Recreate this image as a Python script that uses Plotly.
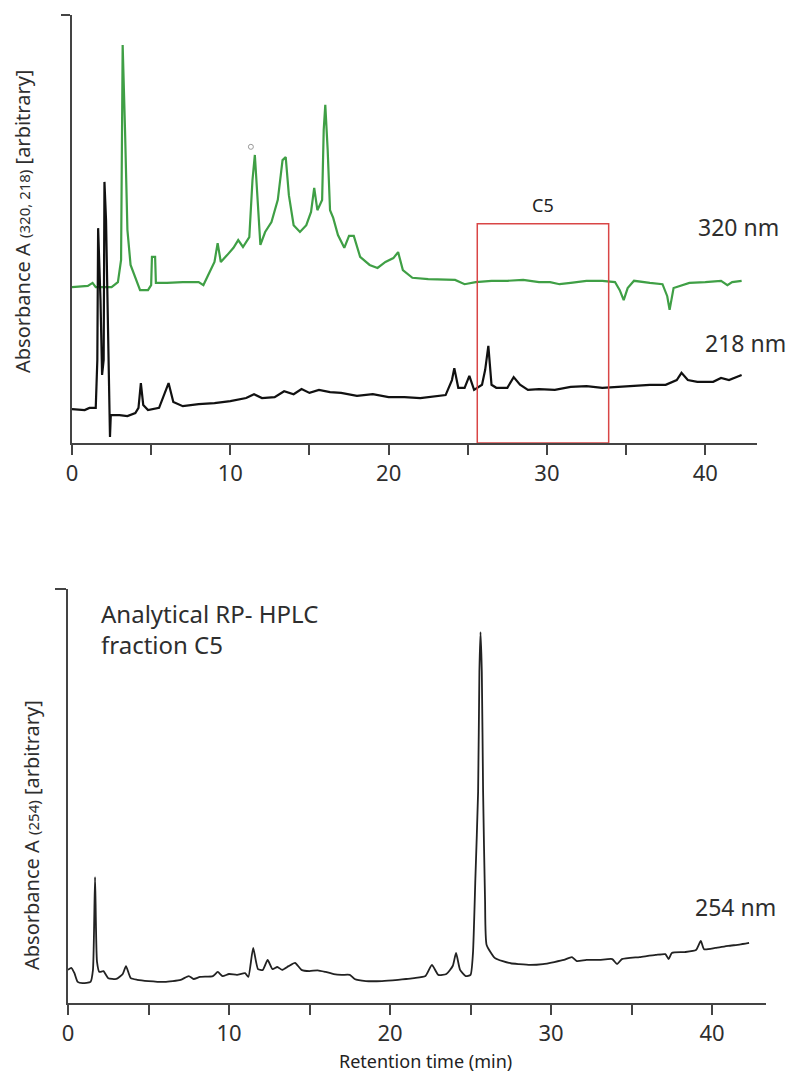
import plotly.graph_objects as go

# ---------------- data ----------------
# Top panel: preparative run, 320 nm (green) and 218 nm (black), arbitrary units 0-100
t320 = [0.0, 1.0, 1.3, 1.5, 2.5, 2.9, 3.1, 3.2, 3.35, 3.5, 3.7, 4.0, 4.3, 4.8, 5.0, 5.05, 5.25, 5.3,
        6.0, 7.0, 8.0, 8.3, 8.6, 9.0, 9.2, 9.4, 9.8, 10.2, 10.5, 10.8, 11.2, 11.4, 11.55, 11.7, 11.9,
        12.2, 12.6, 13.0, 13.3, 13.5, 13.7, 14.0, 14.4, 14.8, 15.1, 15.3, 15.5, 15.8, 15.9, 16.0, 16.15,
        16.3, 16.5, 16.8, 17.2, 17.5, 17.8, 18.2, 18.8, 19.3, 19.8, 20.3, 20.6, 20.9, 21.5, 22.5, 23.5,
        24.2, 24.8, 25.5, 26.5, 27.5, 28.5, 29.5, 30.2, 30.8, 31.5, 32.5, 33.5, 34.3, 34.6, 34.85, 35.1,
        35.5, 36.5, 37.3, 37.6, 37.75, 38.0, 39.0, 40.0, 41.0, 41.4, 41.7, 42.3]
a320 = [36.4, 36.7, 37.4, 36.4, 36.4, 37.6, 42.8, 93.0, 73.1, 49.8, 41.6, 38.6, 35.7, 35.7, 36.9, 43.5, 43.5, 37.4,
        37.4, 37.6, 37.6, 36.9, 39.3, 42.3, 46.7, 42.3, 43.9, 45.6, 47.4, 45.8, 48.1, 61.4, 67.3, 59.1, 46.3,
        49.3, 51.6, 56.8, 66.1, 66.8, 57.9, 50.9, 49.3, 50.9, 54.0, 59.6, 54.4, 56.8, 73.1, 79.0, 68.5,
        54.4, 52.6, 48.6, 45.6, 48.4, 48.4, 43.5, 41.6, 40.9, 42.3, 43.2, 44.6, 40.4, 38.6, 38.3, 38.1,
        38.1, 37.1, 37.6, 37.9, 37.9, 38.1, 37.6, 37.6, 37.1, 37.4, 37.9, 37.9, 37.6, 35.7, 33.4, 36.2,
        37.9, 37.4, 37.1, 34.3, 31.1, 36.2, 37.4, 37.6, 37.9, 36.9, 37.6, 37.9]

t218 = [0.0, 0.8, 1.1, 1.5, 1.6, 1.65, 1.8, 1.9, 2.0, 2.05, 2.15, 2.2, 2.3, 2.35, 2.4, 2.45, 3.0, 3.5,
        4.0, 4.2, 4.35, 4.5, 4.8, 5.5, 5.9, 6.1, 6.4, 7.0, 8.0, 9.0, 10.0, 11.0, 11.5, 12.0, 12.8, 13.4,
        14.0, 14.5, 15.0, 15.6, 16.3, 17.0, 18.0, 19.0, 20.0, 21.0, 22.0, 23.0, 23.6, 24.0, 24.15, 24.4,
        24.8, 25.1, 25.4, 25.9, 26.1, 26.3, 26.5, 26.8, 27.5, 27.9, 28.3, 28.8, 29.5, 30.5, 31.5, 32.5,
        33.5, 34.5, 35.5, 36.5, 37.5, 38.2, 38.5, 38.9, 39.5, 40.5, 41.0, 41.5, 42.3]
a218 = [7.9, 7.7, 8.2, 8.2, 19.4, 50.2, 33.4, 15.9, 19.4, 61.0, 52.1, 42.8, 17.1, 11.2, 1.4, 6.5, 6.5, 6.3,
        7.0, 8.2, 14.0, 8.9, 7.7, 8.2, 12.4, 14.0, 9.6, 8.6, 9.1, 9.3, 9.8, 10.5, 11.4, 10.5, 10.7, 12.1,
        11.4, 12.6, 11.7, 12.4, 11.9, 11.7, 11.0, 11.4, 10.7, 10.7, 10.5, 11.0, 11.2, 14.7, 17.5, 12.9,
        12.9, 15.7, 12.4, 13.6, 17.1, 22.7, 13.6, 12.9, 12.9, 15.4, 13.6, 12.4, 12.6, 12.4, 13.1, 13.3,
        12.9, 13.1, 13.3, 13.6, 13.6, 14.7, 16.4, 14.7, 14.3, 14.3, 15.2, 14.7, 15.9]

# Fraction C5 window (min) and box height (arbitrary units)
c5_start, c5_end, c5_top = 25.6, 33.9, 51.2

# Bottom panel: analytical RP-HPLC of fraction C5, 254 nm
t254 = [0.0, 0.2, 0.4, 0.6, 0.9, 1.4, 1.55, 1.68, 1.8, 1.95, 2.2, 2.5, 3.0, 3.4, 3.6, 3.9, 4.3, 5.0,
        6.0, 7.0, 7.5, 7.8, 8.2, 9.0, 9.3, 9.6, 10.0, 10.5, 11.0, 11.2, 11.5, 11.8, 12.1, 12.4, 12.7,
        13.0, 13.3, 13.7, 14.1, 14.5, 15.0, 15.5, 16.0, 16.5, 17.0, 17.5, 17.8, 18.5, 19.5, 20.5, 21.0,
        21.5, 22.2, 22.6, 23.0, 23.5, 23.9, 24.1, 24.35, 24.7, 25.0, 25.15, 25.3, 25.47, 25.55, 25.62,
        25.7, 25.78, 25.9, 26.0, 26.5, 27.0, 27.5, 28.0, 28.7, 29.5, 30.2, 30.8, 31.3, 31.6, 32.2, 33.0,
        33.8, 34.1, 34.4, 35.5, 36.5, 37.1, 37.3, 37.5, 38.3, 39.0, 39.3, 39.5, 40.2, 41.0, 41.7, 42.3]
a254 = [8.0, 8.5, 7.2, 5.1, 4.8, 5.1, 8.0, 30.4, 10.0, 7.5, 7.7, 6.0, 5.8, 7.0, 8.9, 6.0, 5.6, 5.3,
        5.1, 5.6, 6.5, 5.8, 6.3, 6.5, 7.5, 6.5, 7.0, 6.8, 7.2, 6.3, 13.3, 8.2, 8.0, 10.4, 8.2,
        8.7, 8.0, 8.9, 9.7, 8.0, 7.7, 7.9, 7.5, 7.0, 6.8, 6.8, 5.8, 5.3, 5.3, 5.6, 5.8,
        6.0, 6.5, 9.2, 6.8, 7.0, 9.0, 12.1, 8.0, 6.5, 6.8, 12.0, 30.0, 51.0, 80.0, 89.6,
        80.0, 51.0, 25.0, 14.0, 10.9, 10.1, 9.6, 9.4, 9.2, 9.4, 9.9, 10.4, 11.1, 10.1, 10.4, 10.4,
        10.6, 9.4, 10.6, 11.1, 11.6, 11.8, 10.6, 12.1, 12.3, 12.8, 15.0, 13.0, 13.3, 13.8, 14.1, 14.5]

x_ticks = [0, 10, 20, 30, 40]

# ---------------- figure ----------------
W, H = 790, 1073
FONT = "Noto Sans"
TXT = "#2e2e2e"
AX = "#444444"


def px(v):
    return v / W


def py(v):
    return 1 - v / H


fig = go.Figure()

fig.add_trace(go.Scatter(x=t320, y=a320, mode="lines", line=dict(color="#3f9f45", width=2.2),
                         xaxis="x", yaxis="y", showlegend=False))
fig.add_trace(go.Scatter(x=t218, y=a218, mode="lines", line=dict(color="#111111", width=2.2),
                         xaxis="x", yaxis="y", showlegend=False))
fig.add_trace(go.Scatter(x=[11.3], y=[69.2], mode="markers",
                         marker=dict(symbol="circle-open", size=5, color="#9a9a9a", line=dict(width=1)),
                         xaxis="x", yaxis="y", showlegend=False))
fig.add_trace(go.Scatter(x=t254, y=a254, mode="lines",
                         line=dict(color="#222222", width=1.8, shape="spline", smoothing=0.5),
                         xaxis="x2", yaxis="y2", showlegend=False))

axis_common = dict(showline=True, linecolor=AX, linewidth=2, showgrid=False, zeroline=False,
                   ticks="outside", tickcolor=AX, tickwidth=2, fixedrange=True, automargin=False)

fig.update_layout(
    width=W, height=H, autosize=False,
    margin=dict(l=0, r=0, t=0, b=0),
    paper_bgcolor="white", plot_bgcolor="white",
    font=dict(family=FONT, color=TXT),
    xaxis=dict(domain=[px(72), px(757)], range=[0, 43.27], anchor="y",
               tickvals=x_ticks, ticklen=10, tickfont=dict(size=22, color=TXT),
               minor=dict(dtick=5, tick0=0, ticks="outside", ticklen=10, tickcolor=AX, tickwidth=2),
               **axis_common),
    yaxis=dict(domain=[py(443), py(15)], range=[0, 100], anchor="x",
               tickvals=[100], ticktext=[""], ticklen=9, **axis_common),
    xaxis2=dict(domain=[px(68), px(766)], range=[0, 43.35], anchor="y2",
                tickvals=x_ticks, ticklen=10, tickfont=dict(size=22, color=TXT),
                minor=dict(dtick=5, tick0=0, ticks="outside", ticklen=10, tickcolor=AX, tickwidth=2),
                **axis_common),
    yaxis2=dict(domain=[py(1003), py(589)], range=[0, 100], anchor="x2",
                tickvals=[100], ticktext=[""], ticklen=11, **axis_common),
)

# C5 fraction box
fig.add_shape(type="rect", xref="x", yref="y", x0=c5_start, x1=c5_end, y0=0, y1=c5_top,
              line=dict(color="#d94646", width=1.5), fillcolor="rgba(0,0,0,0)")

C = dict(showarrow=False, xanchor="center", yanchor="middle")
ann = []
ann.append(dict(xref="x", yref="y", x=(c5_start + c5_end) / 2, y=c5_top + 4.3, text="C5",
                font=dict(size=18, color="#222"), **C))
ann.append(dict(xref="paper", yref="paper", x=px(738), y=py(227), text="320 nm",
                font=dict(size=23, color=TXT), **C))
ann.append(dict(xref="paper", yref="paper", x=px(745), y=py(343), text="218 nm",
                font=dict(size=23, color=TXT), **C))
ann.append(dict(xref="paper", yref="paper", x=px(735), y=py(907), text="254 nm",
                font=dict(size=23, color=TXT), **C))
ann.append(dict(xref="paper", yref="paper", x=px(99), y=py(629), xanchor="left", yanchor="middle",
                text="Analytical RP- HPLC<br>fraction C5", align="left",
                showarrow=False, font=dict(size=24, color=TXT)))
ann.append(dict(xref="paper", yref="paper", x=px(23), y=py(222), textangle=-90,
                text="Absorbance A <span style='font-size:15px'>(320, 218)</span> [arbitrary]",
                font=dict(size=20, color=TXT), **C))
ann.append(dict(xref="paper", yref="paper", x=px(31), y=py(835), textangle=-90,
                text="Absorbance A <span style='font-size:15px'>(254)</span> [arbitrary]",
                font=dict(size=20, color=TXT), **C))
ann.append(dict(xref="paper", yref="paper", x=px(425), y=py(1061), text="Retention time (min)",
                font=dict(size=18, color="#222"), **C))
fig.update_layout(annotations=ann)

# remove the default page margin so the figure fills the window exactly
fig.write_html("out.html", config={"displayModeBar": False},
               post_script="document.body.style.margin='0';document.body.style.overflow='hidden';")
